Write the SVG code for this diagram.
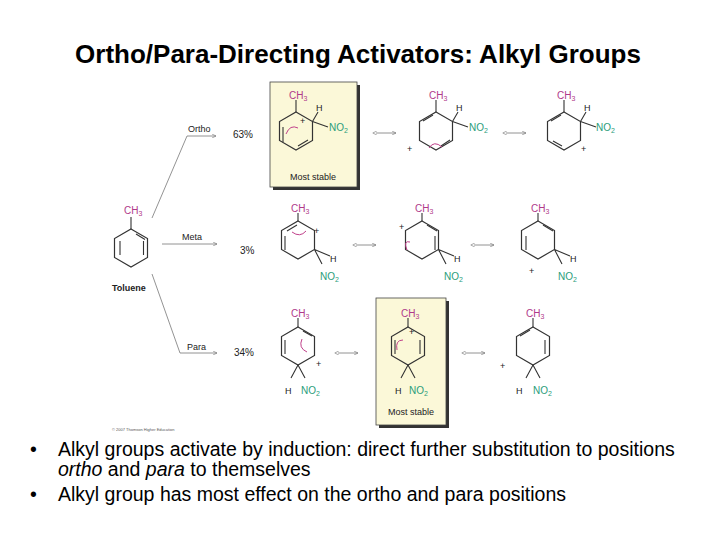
<svg xmlns="http://www.w3.org/2000/svg" width="720" height="540" viewBox="0 0 720 540">
<style>
text{font-family:"Liberation Sans",Arial,sans-serif}
.r{fill:none;stroke:#333;stroke-width:1.2}
.b{stroke:#333;stroke-width:1.1;fill:none}
.m{fill:#b03a8a;font-size:10px}
.g{fill:#2a9d7a;font-size:10px}
.k{fill:#222;font-size:9px}
.p{fill:#222;font-size:10px}
.a{stroke:#777;stroke-width:0.8;fill:none}
.cu{stroke:#c0408a;stroke-width:1;fill:none}
.box{fill:#fbf8d8;stroke:#444;stroke-width:0.8}
</style>
<defs>
<path id="hex" d="M0,-19 L16.5,-9.5 L16.5,9.5 L0,19 L-16.5,9.5 L-16.5,-9.5 Z" class="r"/>
<marker id="ah" markerWidth="6" markerHeight="6" refX="5" refY="3" orient="auto"><path d="M0,0.5 L5,3 L0,5.5" fill="none" stroke="#777" stroke-width="0.8"/></marker>
<marker id="ahs" markerWidth="6" markerHeight="6" refX="1" refY="3" orient="auto-start-reverse"><path d="M0,0.5 L5,3 L0,5.5" fill="none" stroke="#777" stroke-width="0.8"/></marker>
</defs>
<rect width="720" height="540" fill="#fff"/>
<text x="358" y="63" text-anchor="middle" font-size="26" font-weight="bold" fill="#000">Ortho/Para-Directing Activators: Alkyl Groups</text>

<g id="connectors">
<path class="a" d="M152,218 L187,136 L216,136" marker-end="url(#ah)"/>
<path class="a" d="M162,244 L217,244" marker-end="url(#ah)"/>
<path class="a" d="M152,274 L180,353 L217,353" marker-end="url(#ah)"/>
<path class="a" d="M376,133 L396,133" marker-start="url(#ahs)" marker-end="url(#ah)"/>
<path class="a" d="M506,133 L526,133" marker-start="url(#ahs)" marker-end="url(#ah)"/>
<path class="a" d="M356,245 L376,245" marker-start="url(#ahs)" marker-end="url(#ah)"/>
<path class="a" d="M474,245 L494,245" marker-start="url(#ahs)" marker-end="url(#ah)"/>
<path class="a" d="M338,353 L358,353" marker-start="url(#ahs)" marker-end="url(#ah)"/>
<path class="a" d="M465,353 L485,353" marker-start="url(#ahs)" marker-end="url(#ah)"/>
</g>

<g id="labels">
<text x="188" y="132" class="k" fill="#444">Ortho</text>
<text x="182" y="240" class="k">Meta</text>
<text x="187" y="350" class="k">Para</text>
<text x="233" y="138" class="p">63%</text>
<text x="240" y="254" class="p">3%</text>
<text x="234" y="356" class="p">34%</text>
<text x="112" y="291" font-size="9" font-weight="bold" fill="#222">Toluene</text>
<text x="112" y="431" font-size="4" fill="#555">© 2007 Thomson Higher Education</text>
</g>

<g id="toluene">
<use href="#hex" x="131" y="248"/>
<path class="b" d="M131,229 L131,217 M136,234 L145,239.5 M143.5,241 L143.5,255 M120,241 L120,255"/>
<text x="124" y="214" class="m">CH<tspan font-size="7" dy="2">3</tspan></text>
</g>

<g id="ortho1">
<rect x="273" y="85" width="87" height="105" fill="#333"/>
<rect x="270" y="82" width="87" height="105" class="box"/>
<use href="#hex" x="296" y="131"/>
<path class="b" d="M296,112 L296,100 M312.5,121.5 L328,127 M312.5,121.5 L318,112 M283,127 L283,142 M298,146 L308,140"/>
<path class="cu" d="M286,134 Q290,124 298,128"/>
<text x="300" y="124" class="k">+</text>
<text x="289" y="99" class="m">CH<tspan font-size="7" dy="2">3</tspan></text>
<text x="316" y="111" class="k">H</text>
<text x="329" y="131" class="g">NO<tspan font-size="7" dy="2">2</tspan></text>
<text x="313" y="180" text-anchor="middle" class="k">Most stable</text>
</g>
<g id="ortho2">
<use href="#hex" x="436" y="131"/>
<path class="b" d="M436,112 L436,100 M452.5,121.5 L468,127 M452.5,121.5 L458,112 M423,121 L433,115 M441,146 L450,140"/>
<path class="cu" d="M429,148 Q434,140 442,147"/>
<text x="407" y="152" class="k">+</text>
<text x="429" y="99" class="m">CH<tspan font-size="7" dy="2">3</tspan></text>
<text x="456" y="111" class="k">H</text>
<text x="469" y="131" class="g">NO<tspan font-size="7" dy="2">2</tspan></text>
</g>
<g id="ortho3">
<use href="#hex" x="564" y="131"/>
<path class="b" d="M564,112 L564,100 M580.5,121.5 L596,127 M580.5,121.5 L586,112 M551,121 L561,115 M553,141 L562,146"/>
<text x="581" y="152" class="k">+</text>
<text x="557" y="99" class="m">CH<tspan font-size="7" dy="2">3</tspan></text>
<text x="584" y="111" class="k">H</text>
<text x="596" y="131" class="g">NO<tspan font-size="7" dy="2">2</tspan></text>
</g>

<g id="meta1">
<use href="#hex" x="298" y="240"/>
<path class="b" d="M298,221 L298,213 M314.5,249.5 L330,256 M314.5,249.5 L322,264 M285,236 L285,250 M287,231 L297,225"/>
<path class="cu" d="M292,232 Q300,238 306,231"/>
<text x="314" y="234" class="k">+</text>
<text x="291" y="212" class="m">CH<tspan font-size="7" dy="2">3</tspan></text>
<text x="330" y="262" class="k">H</text>
<text x="320" y="280" class="g">NO<tspan font-size="7" dy="2">2</tspan></text>
</g>
<g id="meta2">
<use href="#hex" x="422" y="240"/>
<path class="b" d="M422,221 L422,213 M438.5,249.5 L454,256 M438.5,249.5 L446,264 M435,236 L435,250 M427,225 L437,231"/>
<path class="cu" d="M407,250 Q403,240 410,242"/>
<text x="399" y="230" class="k">+</text>
<text x="415" y="212" class="m">CH<tspan font-size="7" dy="2">3</tspan></text>
<text x="454" y="262" class="k">H</text>
<text x="444" y="280" class="g">NO<tspan font-size="7" dy="2">2</tspan></text>
</g>
<g id="meta3">
<use href="#hex" x="538" y="240"/>
<path class="b" d="M538,221 L538,213 M554.5,249.5 L570,256 M554.5,249.5 L562,264 M526,236 L526,250 M543,225 L553,231"/>
<text x="529" y="274" class="k">+</text>
<text x="531" y="212" class="m">CH<tspan font-size="7" dy="2">3</tspan></text>
<text x="570" y="262" class="k">H</text>
<text x="558" y="280" class="g">NO<tspan font-size="7" dy="2">2</tspan></text>
</g>

<g id="para1">
<use href="#hex" x="298" y="346"/>
<path class="b" d="M298,327 L298,318 M298,365 L291,378 M298,365 L305,378 M285,340 L285,354 M303,331 L312,336"/>
<path class="cu" d="M302,339 Q298,348 307,352"/>
<text x="316" y="367" class="k">+</text>
<text x="291" y="317" class="m">CH<tspan font-size="7" dy="2">3</tspan></text>
<text x="285" y="394" class="k">H</text>
<text x="301" y="394" class="g">NO<tspan font-size="7" dy="2">2</tspan></text>
</g>
<g id="para2">
<rect x="379" y="301" width="70" height="127" fill="#333"/>
<rect x="376" y="298" width="70" height="127" class="box"/>
<use href="#hex" x="408" y="346"/>
<path class="b" d="M408,327 L408,318 M408,365 L401,378 M408,365 L415,378 M395,340 L395,354 M420,340 L420,354"/>
<path class="cu" d="M397,350 Q395,340 403,340"/>
<text x="409" y="335" class="k">+</text>
<text x="401" y="317" class="m">CH<tspan font-size="7" dy="2">3</tspan></text>
<text x="395" y="394" class="k">H</text>
<text x="409" y="394" class="g">NO<tspan font-size="7" dy="2">2</tspan></text>
<text x="411" y="415" text-anchor="middle" class="k">Most stable</text>
</g>
<g id="para3">
<use href="#hex" x="533" y="346"/>
<path class="b" d="M533,327 L533,318 M533,365 L526,378 M533,365 L540,378 M545,340 L545,354 M520,336 L530,330"/>
<text x="500" y="369" class="k">+</text>
<text x="526" y="317" class="m">CH<tspan font-size="7" dy="2">3</tspan></text>
<text x="516" y="394" class="k">H</text>
<text x="533" y="394" class="g">NO<tspan font-size="7" dy="2">2</tspan></text>
</g>

<g id="bullets" font-size="19.5" fill="#000">
<text x="30" y="456">•</text>
<text x="58" y="456">Alkyl groups activate by induction: direct further substitution to positions</text>
<text x="58" y="476"><tspan font-style="italic">ortho</tspan> and <tspan font-style="italic">para</tspan> to themselves</text>
<text x="30" y="501">•</text>
<text x="58" y="501">Alkyl group has most effect on the ortho and para positions</text>
</g>
</svg>
